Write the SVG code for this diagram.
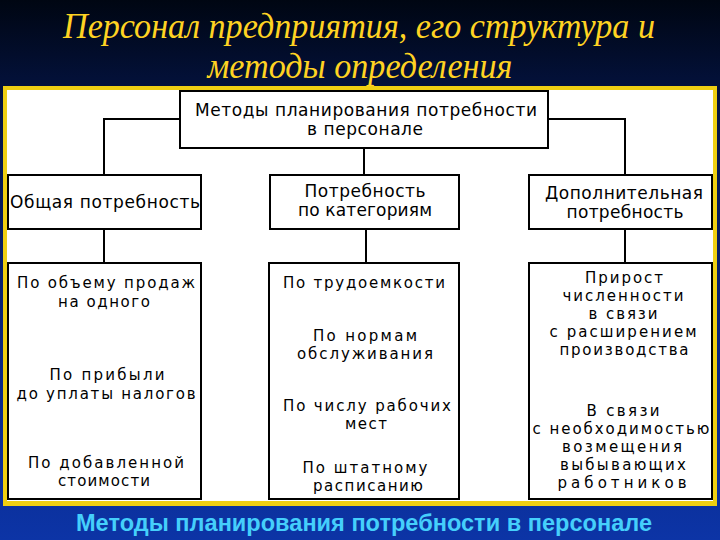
<svg xmlns="http://www.w3.org/2000/svg" width="720" height="540" viewBox="0 0 720 540">
<defs>
<linearGradient id="bg" x1="0" y1="0" x2="0" y2="1">
<stop offset="0" stop-color="#000612"/>
<stop offset="0.2" stop-color="#041445"/>
<stop offset="0.7" stop-color="#0a2785"/>
<stop offset="1" stop-color="#0c34a6"/>
</linearGradient>
<style>
.box{fill:#fff;stroke:#000;stroke-width:2}
.ln{fill:none;stroke:#000;stroke-width:2}
.t{font-family:"DejaVu Sans","Liberation Sans",Arial,sans-serif;font-size:15px;fill:#000;text-anchor:middle}
.h{font-size:17px}
.title{font-family:"Liberation Serif","Times New Roman",serif;font-style:italic;font-size:35px;fill:#FFD322;text-anchor:middle}
.cap{font-family:"Liberation Sans",Arial,sans-serif;font-weight:bold;font-size:23px;fill:#45CFFB;text-anchor:middle}
</style>
</defs>
<rect x="0" y="0" width="720" height="540" fill="url(#bg)"/>
<text class="title" x="359" y="38" textLength="592" lengthAdjust="spacingAndGlyphs">Персонал предприятия, его структура и</text>
<text class="title" x="360" y="78" textLength="305" lengthAdjust="spacingAndGlyphs">методы определения</text>
<rect x="3" y="86" width="714" height="420" fill="#EFCF12"/>
<rect x="7" y="90" width="706" height="411" fill="#fff"/>
<g id="connectors">
<path class="ln" d="M180,119 H104 V175"/>
<path class="ln" d="M548,119 H625 V175"/>
<path class="ln" d="M364,148 V175"/>
<path class="ln" d="M104,229 V263"/>
<path class="ln" d="M366,229 V263"/>
<path class="ln" d="M625,229 V263"/>
</g>
<g id="top">
<rect class="box" x="180" y="91" width="368" height="57"/>
<text class="t h" x="366" y="116" textLength="342">Методы планирования потребности</text>
<text class="t h" x="365" y="135" textLength="116">в персонале</text>
</g>
<g id="mid-left">
<rect class="box" x="8" y="175" width="193" height="54"/>
<text class="t h" x="105" y="208" textLength="190">Общая потребность</text>
</g>
<g id="mid-center">
<rect class="box" x="270" y="175" width="189" height="54"/>
<text class="t h" x="365" y="197" textLength="121">Потребность</text>
<text class="t h" x="365" y="216" textLength="134">по категориям</text>
</g>
<g id="mid-right">
<rect class="box" x="529" y="175" width="183" height="54"/>
<text class="t h" x="624" y="199" textLength="158">Дополнительная</text>
<text class="t h" x="625" y="218" textLength="117">потребность</text>
</g>
<g id="bottom-left">
<rect class="box" x="8" y="263" width="193" height="236"/>
<text class="t" x="106" y="288" textLength="178">По объему продаж</text>
<text class="t" x="104" y="307" textLength="92">на одного</text>
<text class="t" x="107" y="380" textLength="115">По прибыли</text>
<text class="t" x="106" y="399" textLength="179">до уплаты налогов</text>
<text class="t" x="106" y="468" textLength="156">По добавленной</text>
<text class="t" x="104" y="486" textLength="92">стоимости</text>
</g>
<g id="bottom-center">
<rect class="box" x="269" y="263" width="190" height="236"/>
<text class="t" x="364" y="288" textLength="162">По трудоемкости</text>
<text class="t" x="365" y="341" textLength="104">По нормам</text>
<text class="t" x="365" y="359" textLength="136">обслуживания</text>
<text class="t" x="367" y="411" textLength="168">По числу рабочих</text>
<text class="t" x="366" y="429" textLength="42">мест</text>
<text class="t" x="365" y="473" textLength="125">По штатному</text>
<text class="t" x="368" y="491" textLength="110">расписанию</text>
</g>
<g id="bottom-right">
<rect class="box" x="529" y="263" width="183" height="236"/>
<text class="t" x="624" y="283" textLength="78">Прирост</text>
<text class="t" x="623" y="301" textLength="121">численности</text>
<text class="t" x="623" y="319" textLength="69">в связи</text>
<text class="t" x="623" y="337" textLength="147">с расширением</text>
<text class="t" x="624" y="355" textLength="129">производства</text>
<text class="t" x="623" y="416" textLength="73">В связи</text>
<text class="t" x="621" y="434" textLength="177">с необходимостью</text>
<text class="t" x="622" y="452" textLength="120">возмещения</text>
<text class="t" x="623" y="470" textLength="126">выбывающих</text>
<text class="t" x="622" y="488" textLength="129">работников</text>
</g>
<text class="cap" x="364" y="531" textLength="576" lengthAdjust="spacingAndGlyphs">Методы планирования потребности в персонале</text>
</svg>
